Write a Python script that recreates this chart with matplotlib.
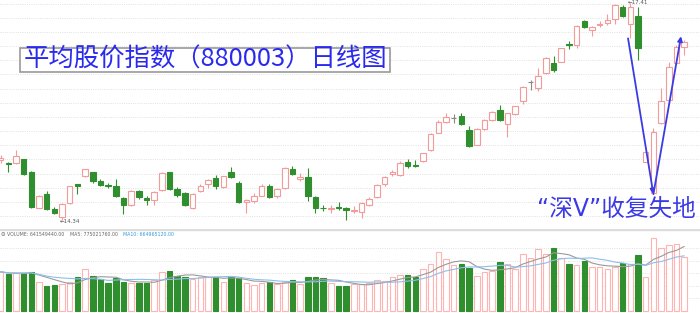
import numpy as np
import pandas as pd
import matplotlib
matplotlib.use("Agg")
import matplotlib.pyplot as plt
from matplotlib.patches import Rectangle

plt.rcParams['font.family'] = ['Noto Sans CJK SC', 'DejaVu Sans']

# daily candles of index 880003
opens = [15.19, 15.15, 15.15, 15.20, 15.02, 14.52, 14.71, 14.50, 14.39, 14.58,
         14.85, 14.96, 15.02, 14.89, 14.84, 14.83, 14.66, 14.55, 14.75, 14.66,
         14.63, 14.77, 15.02, 14.78, 14.72, 14.51, 14.75, 14.86, 14.94, 14.81,
         15.02, 14.87, 14.60, 14.62, 14.69, 14.82, 14.69, 14.79, 15.07, 14.93,
         14.95, 14.67, 14.52, 14.50, 14.53, 14.51, 14.47, 14.46, 14.55, 14.67,
         14.85, 14.99, 14.98, 15.17, 15.12, 15.18, 15.33, 15.58, 15.73, 15.78,
         15.82, 15.62, 15.41, 15.63, 15.76, 15.90, 15.70, 15.84, 16.03, 16.30,
         16.21, 16.42, 16.56, 16.58, 16.83, 16.82, 17.16, 17.03, 17.10, 17.13,
         17.19, 17.36, 17.11, 17.22, 15.17, 14.72, 15.71, 16.04, 16.56, 16.79]
closes = [15.22, 15.14, 15.25, 14.99, 14.53, 14.68, 14.50, 14.45, 14.57, 14.82,
          14.83, 15.06, 14.90, 14.84, 14.83, 14.68, 14.55, 14.76, 14.67, 14.63,
          14.74, 15.01, 14.78, 14.70, 14.56, 14.71, 14.83, 14.91, 14.83, 14.96,
          14.95, 14.60, 14.63, 14.68, 14.82, 14.67, 14.78, 15.08, 14.99, 14.95,
          14.68, 14.51, 14.51, 14.52, 14.51, 14.48, 14.48, 14.58, 14.64, 14.84,
          14.95, 15.02, 15.15, 15.11, 15.11, 15.29, 15.56, 15.73, 15.80, 15.78,
          15.70, 15.39, 15.63, 15.76, 15.87, 15.76, 15.85, 15.95, 16.23, 16.30,
          16.38, 16.63, 16.46, 16.77, 16.82, 17.09, 17.07, 17.07, 17.12, 17.17,
          17.38, 17.22, 17.36, 16.78, 15.31, 15.59, 16.03, 16.51, 16.79, 16.86]
highs = [15.26, 15.16, 15.33, 15.21, 15.04, 14.70, 14.75, 14.53, 14.58, 14.83,
         14.86, 15.07, 15.03, 14.93, 14.87, 14.93, 14.67, 14.77, 14.77, 14.68,
         14.76, 15.02, 15.03, 14.81, 14.74, 14.72, 14.86, 14.93, 14.98, 14.97,
         15.10, 14.89, 14.64, 14.72, 14.86, 14.86, 14.79, 15.09, 15.11, 15.01,
         15.08, 14.68, 14.56, 14.56, 14.60, 14.53, 14.54, 14.60, 14.67, 14.86,
         14.96, 15.05, 15.18, 15.21, 15.19, 15.29, 15.57, 15.76, 15.85, 15.84,
         15.85, 15.67, 15.64, 15.77, 15.88, 15.97, 15.86, 15.96, 16.24, 16.32,
         16.49, 16.64, 16.66, 16.78, 16.87, 17.10, 17.17, 17.08, 17.15, 17.25,
         17.39, 17.38, 17.41, 17.36, 15.33, 15.64, 16.21, 16.58, 16.81, 16.89]
lows = [15.15, 15.03, 15.14, 14.98, 14.52, 14.51, 14.49, 14.43, 14.34, 14.57,
        14.71, 14.95, 14.87, 14.82, 14.79, 14.67, 14.43, 14.54, 14.64, 14.56,
        14.56, 14.76, 14.77, 14.67, 14.54, 14.50, 14.74, 14.79, 14.78, 14.80,
        14.94, 14.58, 14.45, 14.58, 14.68, 14.66, 14.65, 14.78, 14.98, 14.89,
        14.61, 14.45, 14.47, 14.45, 14.49, 14.35, 14.44, 14.37, 14.54, 14.66,
        14.83, 14.96, 14.96, 15.08, 15.10, 15.17, 15.32, 15.57, 15.72, 15.71,
        15.69, 15.38, 15.40, 15.62, 15.75, 15.75, 15.52, 15.83, 15.98, 16.18,
        16.17, 16.41, 16.43, 16.57, 16.76, 16.77, 17.06, 16.94, 17.07, 17.10,
        17.11, 17.21, 16.91, 16.60, 15.16, 14.71, 15.70, 16.00, 16.55, 16.68]
# volume in millions
volumes = [470, 439, 450, 450, 470, 343, 299, 311, 319, 350,
           403, 498, 418, 382, 331, 391, 343, 331, 338, 331,
           370, 470, 482, 422, 403, 382, 410, 410, 403, 350,
           403, 391, 331, 311, 338, 343, 319, 350, 370, 323,
           403, 403, 391, 338, 299, 302, 319, 319, 331, 370,
           362, 410, 430, 430, 403, 502, 558, 709, 618, 550,
           558, 510, 422, 462, 478, 589, 562, 498, 678, 630,
           741, 681, 749, 630, 558, 550, 601, 529, 522, 498,
           529, 570, 562, 669, 410, 869, 756, 789, 797, 642]

title = "平均股价指数（880003）日线图"
note = "“深V”收复失地"
vol_label = "VOLUME: 641549440.00"
ma5_label = "MA5: 775021760.00"
ma10_label = "MA10: 664965120.00"

o = np.array(opens)
c = np.array(closes)
h = np.array(highs)
l = np.array(lows)
v = np.array(volumes)
x = np.arange(len(o))

RED = '#f59a9a'
GREEN = '#2f8f2f'
GREY = '#888888'
col = np.where(c > o, RED, np.where(c < o, GREEN, GREY))
vol_col = np.where(c >= o, '#ffb3b3', GREEN)

fig = plt.figure(figsize=(7, 3.13), dpi=100)
ax = fig.add_axes([0, 84 / 313, 1, 229 / 313])
axv = fig.add_axes([0, 0, 1, 84 / 313])

xlim = (-0.08, 91.07)
w = 0.72

# price panel
ax.vlines(x, l, h, colors=col, lw=0.8, zorder=2)
bottoms = np.minimum(o, c)
heights = np.abs(c - o)
face = np.where(c > o, 'white', col)
ax.bar(x, heights, w, bottom=bottoms, color=face, edgecolor=col, lw=0.8, zorder=3)
ax.set_xlim(*xlim)
ax.set_ylim(14.218, 17.452)
ax.set_yticks(np.arange(14.4, 17.45, 0.2))
ax.grid(axis='y', ls=':', color='#d8d8d8', lw=0.6)
ax.tick_params(left=False, bottom=False, labelleft=False, labelbottom=False)
for s in ax.spines.values():
    s.set_visible(False)

imin = int(np.argmin(l))
imax = int(np.argmax(h))
ax.text(imin - 0.3, l[imin] - 0.02, "←" + f"{l[imin]:.2f}", fontsize=4, color='#555555',
        ha='left', va='center', family='DejaVu Sans')
ax.text(imax - 0.3, h[imax], "←" + f"{h[imax]:.2f}", fontsize=4, color='#555555',
        ha='left', va='center', family='DejaVu Sans')

# deep V arrows
bot = int(np.argmin(l[80:])) + 80
arrow = dict(arrowstyle='-|>', color='#3a3ae6', lw=1.3, mutation_scale=7, shrinkA=0, shrinkB=0)
ax.annotate('', xy=(bot, l[bot]), xytext=(imax - 0.3, l[imax]), arrowprops=arrow)
ax.annotate('', xy=(len(x) - 1.4, 16.94), xytext=(bot, l[bot]), arrowprops=arrow)

# volume panel
axv.bar(x, v, w, color=np.where(c >= o, 'white', GREEN), edgecolor=vol_col, lw=0.8, zorder=3)
ma5 = pd.Series(v).rolling(5, min_periods=1).mean()
ma10 = pd.Series(v).rolling(10, min_periods=1).mean()
axv.plot(x, ma5, color='#9a9a9a', lw=0.8, zorder=4)
axv.plot(x, ma10, color='#8cc0ec', lw=0.8, zorder=4)
axv.set_xlim(*xlim)
axv.set_ylim(-24, 980)
axv.set_yticks([150, 300, 450, 600, 750])
axv.grid(axis='y', ls=':', color='#d8d8d8', lw=0.6)
axv.tick_params(left=False, bottom=False, labelleft=False, labelbottom=False)
for s in axv.spines.values():
    s.set_visible(False)
axv.axhline(980, color='#dddddd', lw=2.5)

ty = 0.94
fs = 3.4
axv.text(0.001, ty, "⊖", transform=axv.transAxes, fontsize=4, color='#666666',
         va='center', family='DejaVu Sans')
axv.text(6.7 / 700, ty, vol_label, transform=axv.transAxes,
         fontsize=fs, color='#666666', va='center', family='DejaVu Sans')
axv.text(70 / 700, ty, ma5_label, transform=axv.transAxes,
         fontsize=fs, color='#666666', va='center', family='DejaVu Sans')
axv.text(123 / 700, ty, ma10_label, transform=axv.transAxes,
         fontsize=fs, color='#3399dd', va='center', family='DejaVu Sans')

# title box
fig.patches.append(Rectangle((20 / 700, 1 - 72 / 313), 370 / 700, 24 / 313,
                             transform=fig.transFigure, fill=True, facecolor='white',
                             edgecolor='#999999', lw=1.2, zorder=5))
fig.text(205 / 700, 1 - 60 / 313, title, fontsize=18.3, color='#2a2aee', fontweight='light',
         ha='center', va='center', zorder=6)
fig.text(537 / 700, 1 - 209 / 313, note, fontsize=17, color='#3a3ae6',
         family=['DejaVu Sans', 'Noto Sans CJK SC'],
         ha='left', va='center', zorder=6)

fig.savefig("out.png", dpi=100)
